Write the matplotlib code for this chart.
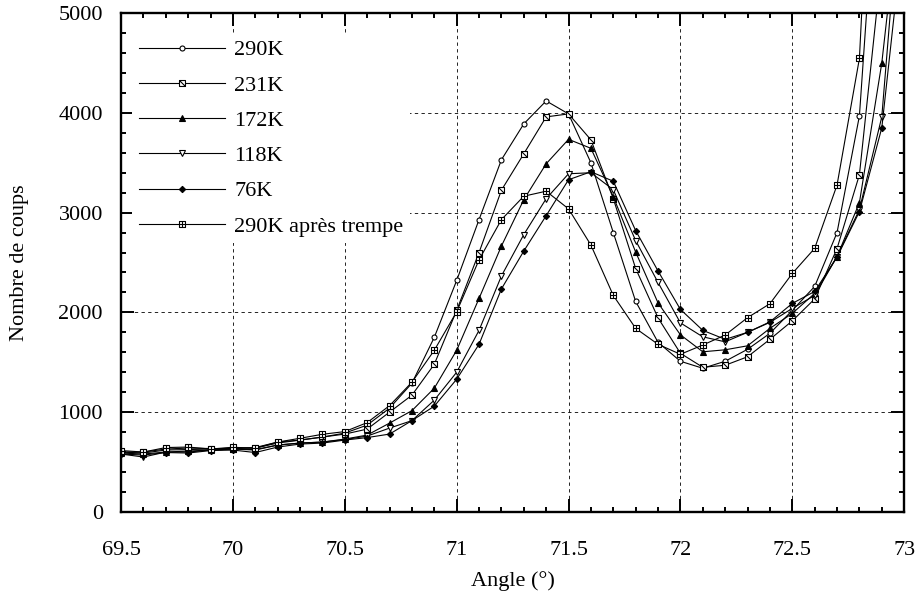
import numpy as np
import matplotlib.pyplot as plt
from matplotlib.path import Path
from matplotlib.ticker import MultipleLocator

plt.rcParams['font.family'] = ['Liberation Serif', 'DejaVu Serif']

nan = np.nan
angle = [69.5, 69.6, 69.7, 69.8, 69.9, 70.0, 70.1, 70.2, 70.3, 70.4, 70.5, 70.6,
         70.7, 70.8, 70.9, 71.0, 71.1, 71.2, 71.3, 71.4, 71.5, 71.6, 71.7, 71.8,
         71.9, 72.0, 72.1, 72.2, 72.3, 72.4, 72.5, 72.6, 72.7, 72.8, 72.9, 73.0]

c290 = [600, 590, 620, 625, 630, 640, 645, 700, 720, 750, 790, 870,
        1040, 1290, 1750, 2320, 2930, 3530, 3890, 4120, 3990, 3500, 2800, 2110,
        1700, 1510, 1440, 1510, 1630, 1790, 2020, 2260, 2800, 3970, 7200, nan]
c231 = [600, 600, 630, 640, 635, 635, 640, 690, 720, 750, 780, 830,
        1000, 1170, 1480, 2020, 2600, 3225, 3590, 3960, 3990, 3730, 3140, 2440,
        1945, 1590, 1450, 1470, 1555, 1730, 1915, 2135, 2640, 3380, 5500, nan]
c172 = [590, 580, 600, 610, 620, 630, 625, 670, 690, 700, 730, 770,
        890, 1015, 1240, 1620, 2140, 2665, 3130, 3490, 3735, 3645, 3160, 2605,
        2095, 1775, 1605, 1625, 1665, 1840, 1990, 2190, 2560, 3100, 4500, 6500]
c118 = [580, 550, 600, 600, 620, 630, 620, 670, 690, 700, 725, 760,
        840, 915, 1120, 1400, 1820, 2365, 2780, 3140, 3390, 3400, 3230, 2720,
        2300, 1895, 1755, 1705, 1800, 1900, 2040, 2170, 2560, 3030, 3960, 6700]
c76 = [580, 570, 595, 590, 615, 620, 595, 650, 680, 690, 720, 745,
       780, 915, 1060, 1330, 1680, 2235, 2615, 2970, 3330, 3410, 3315, 2820,
       2415, 2030, 1820, 1730, 1800, 1905, 2090, 2210, 2555, 3010, 3850, 5900]
c290t = [615, 600, 645, 650, 630, 648, 638, 700, 738, 778, 805, 895,
         1065, 1300, 1620, 2006, 2527, 2930, 3165, 3215, 3038, 2675, 2170, 1840,
         1680, 1580, 1673, 1773, 1947, 2087, 2390, 2642, 3277, 4546, 9000, nan]

labels = ['290K', '231K', '172K', '118K', '76K', '290K après trempe']

# square with a diagonal, square with a cross
sq = [(-1, -1), (1, -1), (1, 1), (-1, 1), (-1, -1)]
sq_codes = [Path.MOVETO] + [Path.LINETO] * 3 + [Path.CLOSEPOLY]
box_diag = Path(sq + [(-1, 1), (1, -1)], sq_codes + [Path.MOVETO, Path.LINETO])
box_plus = Path(sq + [(-1, 0), (1, 0), (0, -1), (0, 1)],
                sq_codes + [Path.MOVETO, Path.LINETO, Path.MOVETO, Path.LINETO])

styles = [
    dict(marker='o', ms=3.6, mfc='white'),
    dict(marker=box_diag, ms=4.3, mfc='white'),
    dict(marker='^', ms=4.3, mfc='black'),
    dict(marker='v', ms=4.3, mfc='white'),
    dict(marker='D', ms=3.2, mfc='black'),
    dict(marker=box_plus, ms=4.3, mfc='white'),
]

fig = plt.figure(figsize=(9.17, 5.98), dpi=100)
ax = fig.add_axes([0.132, 0.144, 0.854, 0.834])

for y, lab, st in zip([c290, c231, c172, c118, c76, c290t], labels, styles):
    ax.plot(angle, y, color='black', lw=0.8, mec='black', mew=0.8, label=lab, **st)

ax.set_xlim(69.5, 73)
ax.set_ylim(0, 5000)
ax.xaxis.set_major_locator(MultipleLocator(0.5))
ax.xaxis.set_minor_locator(MultipleLocator(0.1))
ax.yaxis.set_major_locator(MultipleLocator(1000))
ax.yaxis.set_minor_locator(MultipleLocator(200))
ax.xaxis.set_major_formatter(plt.FuncFormatter(lambda v, p: f'{v:g}'))

ax.grid(which='major', color='black', linestyle=(0, (4, 4)), linewidth=0.6)
ax.set_axisbelow(True)
ax.tick_params(which='both', direction='in', top=True, right=True, width=1.4, labelsize=16)
ax.tick_params(which='major', length=9.5)
ax.tick_params(which='minor', length=3.6)
ax.tick_params(axis='x', pad=21)
ax.tick_params(axis='y', pad=13)
for s in ax.spines.values():
    s.set_linewidth(1.7)

ax.set_xlabel('Angle (°)', fontsize=16, labelpad=8)
ax.set_ylabel('Nombre de coups', fontsize=16)
ax.yaxis.set_label_coords(-0.118, 0.5)

leg = ax.legend(loc='upper left', bbox_to_anchor=(0.0, 0.982), fontsize=16,
                frameon=True, fancybox=False, edgecolor='none', facecolor='white',
                framealpha=1, handlelength=3.9, handletextpad=0.4, labelspacing=0.66,
                borderpad=0.3, borderaxespad=0.5)

fig.savefig('out.png', dpi=100)
